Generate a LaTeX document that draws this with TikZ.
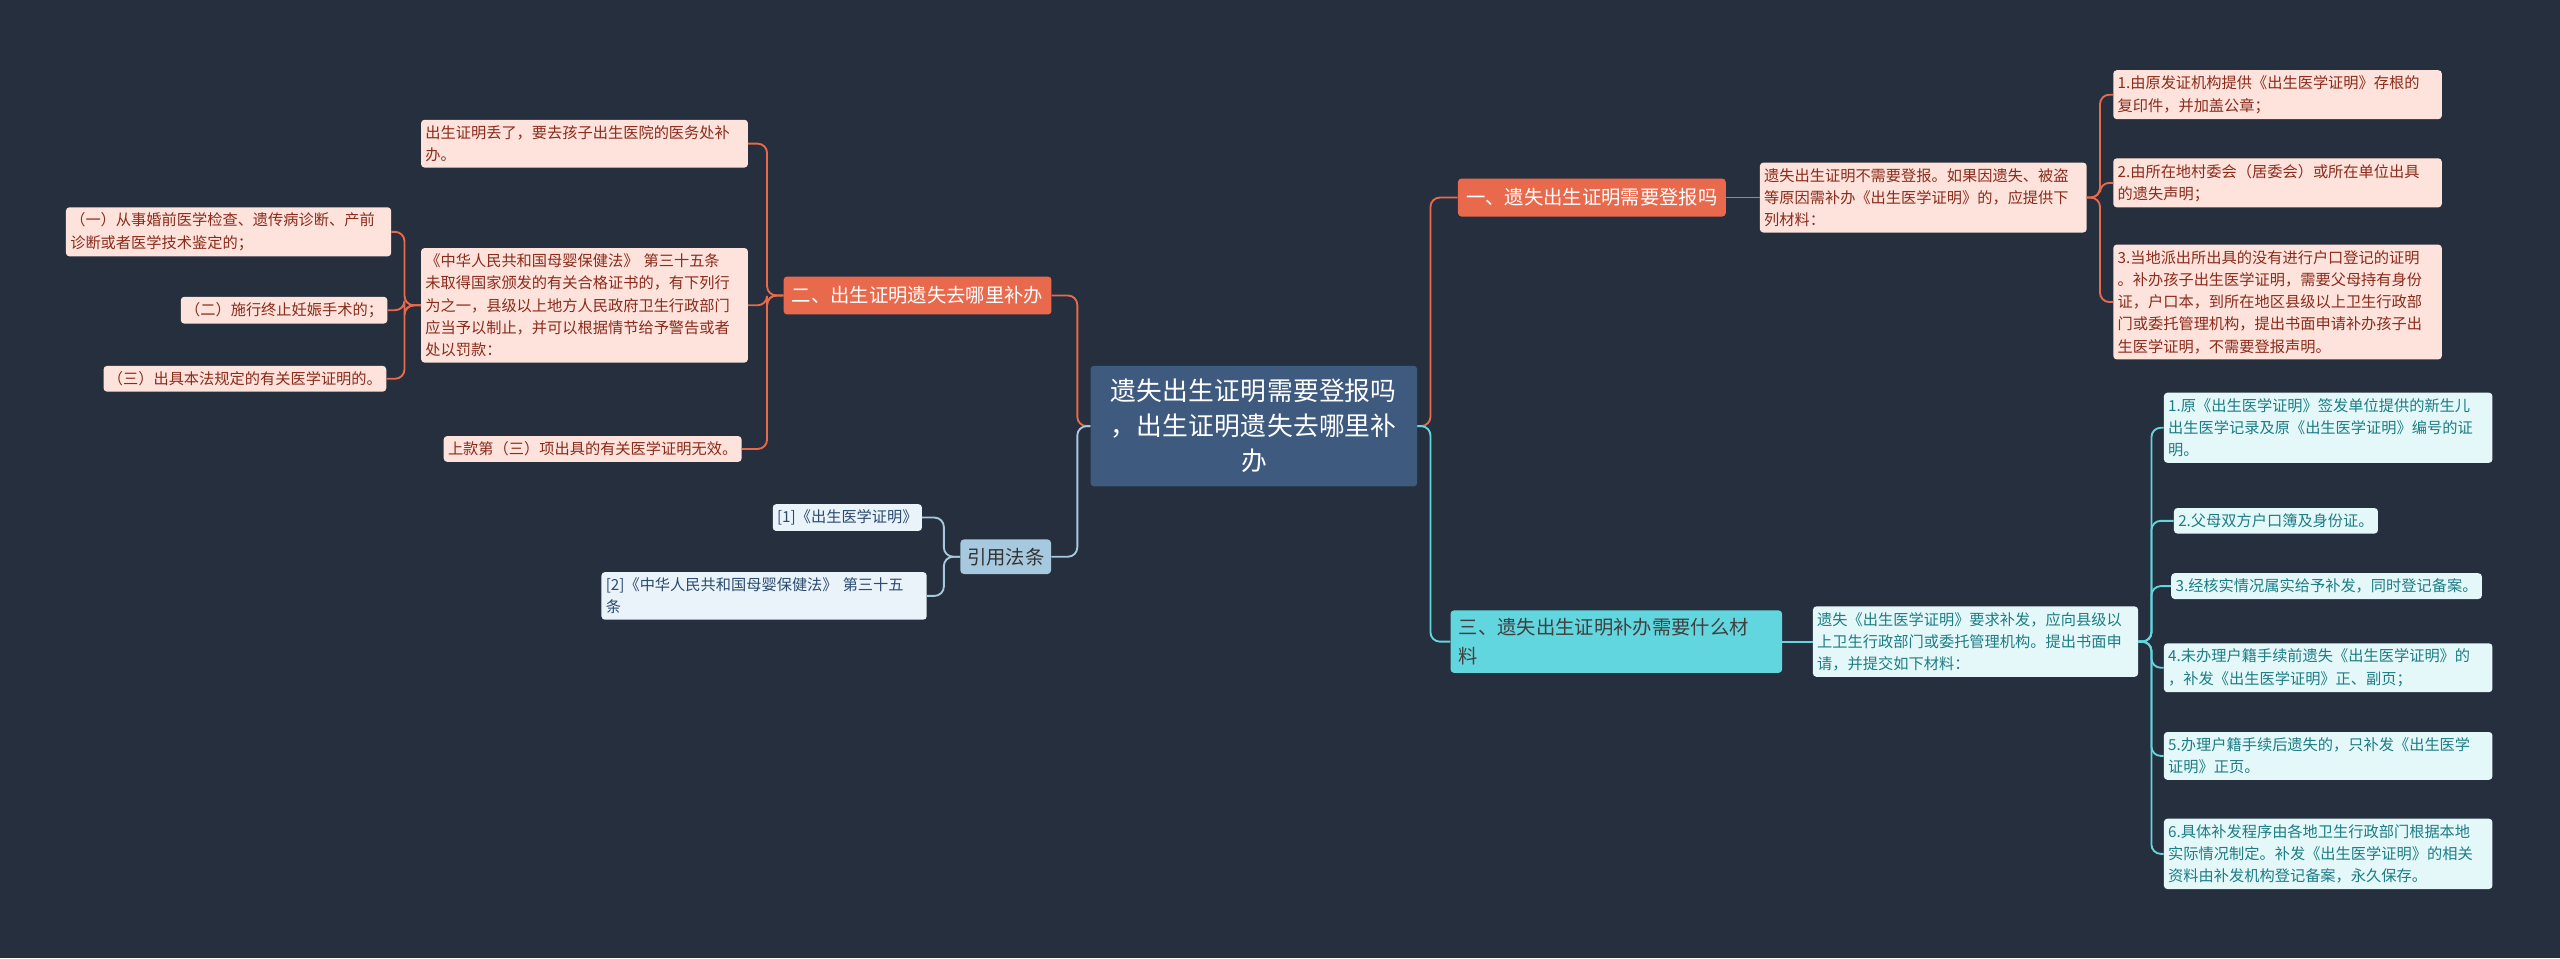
\documentclass[tikz,border=0pt]{standalone}
\usepackage{fontspec}
\setmainfont{Noto Sans CJK SC}
\XeTeXlinebreaklocale "zh"
\XeTeXlinebreakskip=0pt plus 1pt
\definecolor{bgdark}{HTML}{262F3D}
\definecolor{rootblue}{HTML}{3E5A7E}
\definecolor{redmain}{HTML}{E9694C}
\definecolor{redlight}{HTML}{FDE3DC}
\definecolor{redtext}{HTML}{8A2B1B}
\definecolor{cyanmain}{HTML}{62D6DE}
\definecolor{cyanlight}{HTML}{E4F8F9}
\definecolor{cyantext}{HTML}{1D7C84}
\definecolor{bluemain}{HTML}{A6C9DF}
\definecolor{bluelight}{HTML}{EAF3FA}
\definecolor{bluetext}{HTML}{2B4A6E}
\tikzset{
    box/.style={rounded corners=3pt, inner xsep=0.13cm, inner ysep=0.17cm, align=left,
        font=\fontsize{13}{19}\selectfont},
    rootbox/.style={box, fill=rootblue, text=white, align=center, inner xsep=0.3cm, inner ysep=0.4cm,
        font=\fontsize{22}{30}\selectfont},
    redtopic/.style={box, fill=redmain, text=white, inner xsep=0.25cm, inner ysep=0.3cm,
        font=\fontsize{16.5}{22}\selectfont},
    redleaf/.style={box, fill=redlight, text=redtext},
    cyantopic/.style={box, fill=cyanmain, text=black!75, inner xsep=0.25cm, inner ysep=0.25cm,
        font=\fontsize{16.5}{24}\selectfont},
    cyanleaf/.style={box, fill=cyanlight, text=cyantext},
    bluetopic/.style={box, fill=bluemain, text=black!80, inner xsep=0.2cm, inner ysep=0.25cm,
        font=\fontsize{16.5}{22}\selectfont},
    blueleaf/.style={box, fill=bluelight, text=bluetext},
    link/.style={line width=1.6pt, rounded corners=8pt},
}
\begin{document}
\begin{tikzpicture}[x=0.049cm, y=-0.049cm]
    \fill[bgdark] (0,0) rectangle (1568,587);
    \useasboundingbox (0,0) rectangle (1568,587);

    \node[rootbox, text width=9.2cm] (root) at (768,261) {遗失出生证明需要登报吗\\，出生证明遗失去哪里补\\办};

    % right side
    \node[redtopic] (one) at (975,121) {一、遗失出生证明需要登报吗};
    \node[redleaf, text width=9.55cm] (onea) at (1178,121) {遗失出生证明不需要登报。如果因遗失、被盗\\等原因需补办《出生医学证明》的，应提供下\\列材料：};
    \node[redleaf, text width=9.6cm] (g1) at (1395,58) {1.由原发证机构提供《出生医学证明》存根的\\复印件，并加盖公章；};
    \node[redleaf, text width=9.6cm] (g2) at (1395,112) {2.由所在地村委会（居委会）或所在单位出具\\的遗失声明；};
    \node[redleaf, text width=9.6cm] (g3) at (1395,185) {3.当地派出所出具的没有进行户口登记的证明\\。补办孩子出生医学证明，需要父母持有身份\\证，户口本，到所在地区县级以上卫生行政部\\门或委托管理机构，提出书面申请补办孩子出\\生医学证明，不需要登报声明。};

    \node[cyantopic, text width=9.45cm] (three) at (990,393) {三、遗失出生证明补办需要什么材\\料};
    \node[cyanleaf, text width=9.5cm] (threea) at (1210,393) {遗失《出生医学证明》要求补发，应向县级以\\上卫生行政部门或委托管理机构。提出书面申\\请，并提交如下材料：};
    \node[cyanleaf, text width=9.6cm] (c1) at (1426,262) {1.原《出生医学证明》签发单位提供的新生儿\\出生医学记录及原《出生医学证明》编号的证\\明。};
    \node[cyanleaf] (c2) at (1394,319) {2.父母双方户口簿及身份证。};
    \node[cyanleaf] (c3) at (1425,359) {3.经核实情况属实给予补发，同时登记备案。};
    \node[cyanleaf, text width=9.6cm] (c4) at (1426,409) {4.未办理户籍手续前遗失《出生医学证明》的\\，补发《出生医学证明》正、副页；};
    \node[cyanleaf, text width=9.6cm] (c5) at (1426,463) {5.办理户籍手续后遗失的，只补发《出生医学\\证明》正页。};
    \node[cyanleaf, text width=9.6cm] (c6) at (1426,523) {6.具体补发程序由各地卫生行政部门根据本地\\实际情况制定。补发《出生医学证明》的相关\\资料由补发机构登记备案，永久保存。};

    % left side
    \node[redtopic] (two) at (562,181) {二、出生证明遗失去哪里补办};
    \node[redleaf, text width=9.55cm] (twoa) at (358,88) {出生证明丢了，要去孩子出生医院的医务处补\\办。};
    \node[redleaf, text width=9.55cm] (twob) at (358,187) {《中华人民共和国母婴保健法》 第三十五条\\未取得国家颁发的有关合格证书的，有下列行\\为之一，县级以上地方人民政府卫生行政部门\\应当予以制止，并可以根据情节给予警告或者\\处以罚款：};
    \node[redleaf] (twoc) at (363,275) {上款第（三）项出具的有关医学证明无效。};
    \node[redleaf, text width=9.5cm] (b1) at (140,142) {（一）从事婚前医学检查、遗传病诊断、产前\\诊断或者医学技术鉴定的；};
    \node[redleaf] (b2) at (174,190) {（二）施行终止妊娠手术的；};
    \node[redleaf] (b3) at (150,232) {（三）出具本法规定的有关医学证明的。};

    \node[bluetopic] (refs) at (616,341) {引用法条};
    \node[blueleaf] (r1) at (519,317) {[1]《出生医学证明》};
    \node[blueleaf, text width=9.5cm] (r2) at (468,365) {[2]《中华人民共和国母婴保健法》 第三十五\\条};

    \draw[link, redmain] (root.east) -- ++(8,0) |- (one.west);
    \draw[link, cyanmain] (root.east) -- ++(8,0) |- (three.west);
    \draw[link, redmain] (root.west) -- ++(-8,0) |- (two.east);
    \draw[link, bluemain] (root.west) -- ++(-8,0) |- (refs.east);

    \draw[link, redmain] (one.east) -- (onea.west);
    \foreach \n in {g1,g2,g3}
        \draw[link, redmain] (onea.east) -- ++(8,0) |- (\n.west);
    \draw[link, cyanmain] (three.east) -- (threea.west);
    \foreach \n in {c1,c2,c3,c4,c5,c6}
        \draw[link, cyanmain] (threea.east) -- ++(8,0) |- (\n.west);

    \foreach \n in {twoa,twob,twoc}
        \draw[link, redmain] (two.west) -- ++(-10,0) |- (\n.east);
    \foreach \n in {b1,b2,b3}
        \draw[link, redmain] (twob.west) -- ++(-10,0) |- (\n.east);
    \foreach \n in {r1,r2}
        \draw[link, bluemain] (refs.west) -- ++(-10,0) |- (\n.east);
\end{tikzpicture}
\end{document}
